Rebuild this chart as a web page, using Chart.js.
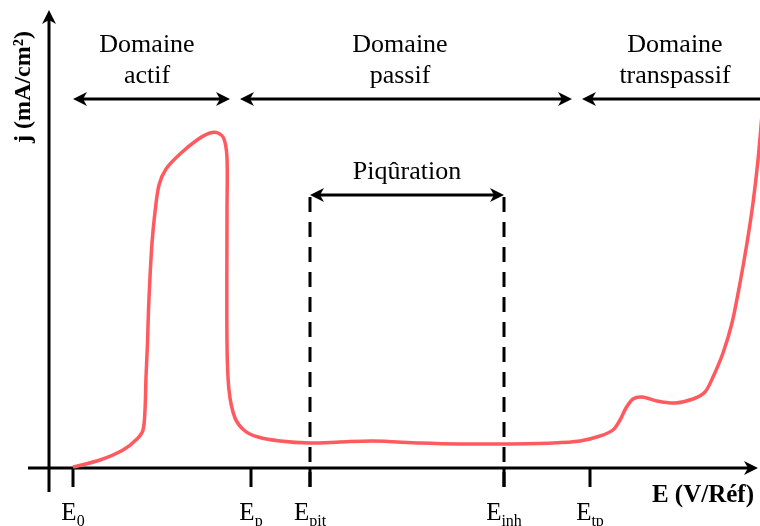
<!DOCTYPE html>
<html>
<head>
<meta charset="utf-8">
<script src="https://cdn.jsdelivr.net/npm/chart.js@4/dist/chart.umd.min.js"></script>
<style>
  body { margin: 0; background: #fff; }
  #wrap { width: 760px; height: 526px; }
</style>
</head>
<body>
<div id="wrap"><canvas id="polarChart"></canvas></div>
<script>
// potential (arbitrary units, origin on the j axis) and current density
const potentials = [24, 51, 74, 88, 94, 96, 97, 98.5, 99.5, 101, 103, 106, 110, 117, 131, 148, 161, 169, 175, 178, 178, 178,
  180, 186, 196, 209, 231, 261, 291, 324, 371, 411, 454, 504, 531, 551, 564, 571, 577, 584, 593, 608,
  626, 644, 656, 664, 674, 683, 691, 698, 704, 709, 713];
const currents = [1, 8, 18, 29, 38, 58, 91, 125, 158, 191, 225, 256, 283, 299, 314, 328, 335, 335, 329, 310, 258, 125,
  78, 50, 37, 31, 27, 25, 26, 27, 25, 24, 24, 25, 27, 32, 38, 48, 60, 69, 71, 67,
  65, 69, 76, 91, 115, 145, 185, 225, 265, 308, 353];

// marked potentials on the E axis
const markPositions = [24, 202, 261, 455, 541];
const markSubscripts = ["0", "p", "pit", "inh", "tp"];

// domains (start, end, centre of label)
const domainLines1 = ["Domaine", "Domaine", "Domaine"];
const domainLines2 = ["actif", "passif", "transpassif"];
const domainStarts = [24, 191, 533];
const domainEnds = [181, 523, 735];
const domainCentres = [98, 351, 626];
const domainArrowLevel = 369;

const pittingLabel = "Piqûration";
const pittingLevel = 273;

const xTitle = "E (V/Réf)";
const yTitle = "j (mA/cm²)";

const SERIF = "'Liberation Serif', 'Times New Roman', serif";

function drawArrowHead(ctx, x, y, dir) {
  // dir: 1 = pointing right, -1 = left, 'up'
  ctx.beginPath();
  if (dir === "up") {
    ctx.moveTo(x, y);
    ctx.lineTo(x - 7, y + 14);
    ctx.lineTo(x, y + 10);
    ctx.lineTo(x + 7, y + 14);
  } else {
    ctx.moveTo(x, y);
    ctx.lineTo(x - dir * 14, y - 7);
    ctx.lineTo(x - dir * 10, y);
    ctx.lineTo(x - dir * 14, y + 7);
  }
  ctx.closePath();
  ctx.fill();
}

function drawDoubleArrow(ctx, x1, x2, y) {
  ctx.beginPath();
  ctx.moveTo(x1 + 4, y);
  ctx.lineTo(x2 - 4, y);
  ctx.stroke();
  drawArrowHead(ctx, x1, y, -1);
  drawArrowHead(ctx, x2, y, 1);
}

const diagramPlugin = {
  id: "diagram",
  beforeDatasetsDraw(chart) {
    const ctx = chart.ctx;
    const xs = chart.scales.x;
    const ys = chart.scales.y;
    const px = v => xs.getPixelForValue(v);
    const py = v => ys.getPixelForValue(v);

    ctx.save();
    ctx.strokeStyle = "#000";
    ctx.fillStyle = "#000";
    ctx.lineWidth = 3;
    ctx.lineCap = "butt";

    // axes
    ctx.beginPath();
    ctx.moveTo(px(0), py(-24));
    ctx.lineTo(px(0), py(452));
    ctx.moveTo(px(-21), py(0));
    ctx.lineTo(px(703), py(0));
    ctx.stroke();
    drawArrowHead(ctx, px(0), py(458), "up");
    drawArrowHead(ctx, px(709), py(0), 1);

    // tick marks and labels
    markPositions.forEach((e, i) => {
      ctx.beginPath();
      ctx.moveTo(px(e), py(0));
      ctx.lineTo(px(e), py(-19));
      ctx.stroke();

      ctx.font = "25px " + SERIF;
      const wE = ctx.measureText("E").width;
      ctx.font = "16px " + SERIF;
      const wS = ctx.measureText(markSubscripts[i]).width;
      const left = px(e) - (wE + wS) / 2;
      ctx.textAlign = "left";
      ctx.textBaseline = "alphabetic";
      ctx.font = "25px " + SERIF;
      ctx.fillText("E", left, 520);
      ctx.font = "16px " + SERIF;
      ctx.fillText(markSubscripts[i], left + wE, 526);
    });

    // dashed pitting limits
    ctx.setLineDash([15, 10]);
    [markPositions[2], markPositions[3]].forEach(e => {
      ctx.beginPath();
      ctx.moveTo(px(e), py(pittingLevel - 2));
      ctx.lineTo(px(e), py(-19));
      ctx.stroke();
    });
    ctx.setLineDash([]);

    // domain arrows and labels
    ctx.textAlign = "center";
    ctx.textBaseline = "middle";
    ctx.font = "26px " + SERIF;
    domainStarts.forEach((s, i) => {
      drawDoubleArrow(ctx, px(s), px(domainEnds[i]), py(domainArrowLevel));
      ctx.fillText(domainLines1[i], px(domainCentres[i]), 45);
      ctx.fillText(domainLines2[i], px(domainCentres[i]), 76);
    });

    drawDoubleArrow(ctx, px(markPositions[2]), px(markPositions[3]), py(pittingLevel));
    ctx.fillText(pittingLabel, (px(markPositions[2]) + px(markPositions[3])) / 2, 172);

    // axis titles
    ctx.font = "bold 25px " + SERIF;
    ctx.textAlign = "right";
    ctx.textBaseline = "alphabetic";
    ctx.fillText(xTitle, 754, 502);

    ctx.save();
    ctx.translate(30, 87);
    ctx.rotate(-Math.PI / 2);
    ctx.textAlign = "center";
    ctx.font = "bold 24px " + SERIF;
    ctx.fillText(yTitle, 0, 0);
    ctx.restore();

    ctx.restore();
  }
};

new Chart(document.getElementById("polarChart"), {
  type: "line",
  data: {
    datasets: [{
      data: potentials.map((e, i) => ({ x: e, y: currents[i] })),
      borderColor: "#ff5a5f",
      borderWidth: 3.5,
      pointRadius: 0,
      tension: 0.3,
      fill: false
    }]
  },
  options: {
    responsive: true,
    maintainAspectRatio: false,
    animation: false,
    layout: { padding: 0 },
    plugins: {
      legend: { display: false },
      tooltip: { enabled: false }
    },
    scales: {
      x: { type: "linear", min: -49, max: 711, display: false },
      y: { type: "linear", min: -58, max: 468, display: false }
    }
  },
  plugins: [diagramPlugin]
});
</script>
</body>
</html>
